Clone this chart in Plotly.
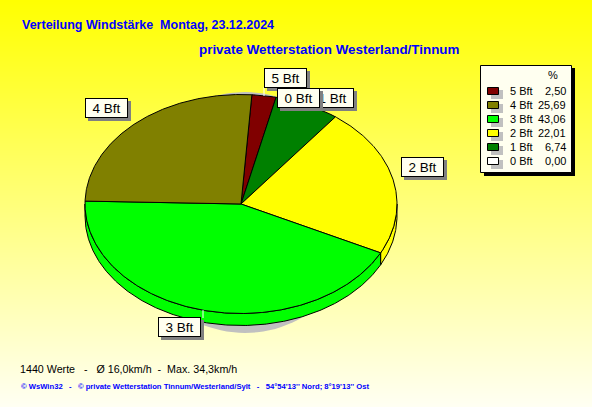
import math
import plotly.graph_objects as go

W, H = 592, 407
# --- data ---
labels = ["5 Bft", "1 Bft", "2 Bft", "3 Bft", "4 Bft"]
values = [2.50, 6.74, 22.01, 43.06, 25.69]
colors = ["#800000", "#008000", "#FFFF00", "#00FF00", "#808000"]
legend_labels = ["5 Bft", "4 Bft", "3 Bft", "2 Bft", "1 Bft", "0 Bft"]
legend_values = ["2,50", "25,69", "43,06", "22,01", "6,74", "0,00"]
legend_colors = ["#800000", "#808000", "#00FF00", "#FFFF00", "#008000", "#FFFFFF"]
title_1 = "Verteilung Windstärke  Montag, 23.12.2024"
title_2 = "private Wetterstation Westerland/Tinnum"
stats = "1440 Werte   -   Ø 16,0km/h  -  Max. 34,3km/h"
footer = "© WsWin32   -   © private Wetterstation Tinnum/Westerland/Sylt   -   54°54'13'' Nord; 8°19'13'' Ost"

# --- geometry ---
CX, CY, RX, RY, DEPTH = 241, 204, 156, 109.5, 12
START = 4.0
CREAM = "#FFFFF0"
SHADOW = "#C0C0C0"


def pt(deg, dy=0.0):
    a = math.radians(deg)
    return CX + RX * math.sin(a), CY + dy - RY * math.cos(a)


def arc(a0, a1, dy=0.0):
    n = max(2, int(abs(a1 - a0)) * 2)
    return [pt(a0 + (a1 - a0) * i / n, dy) for i in range(n + 1)]


def poly(points, fill, line="#000000", width=1):
    xs = [p[0] for p in points] + [points[0][0]]
    ys = [p[1] for p in points] + [points[0][1]]
    return go.Scatter(x=xs, y=ys, mode="lines", fill="toself", fillcolor=fill,
                      line=dict(color=line, width=width), hoverinfo="skip", showlegend=False)


fig = go.Figure()
fig.add_trace(go.Heatmap(x=[0, W], y=[-1, H + 1], z=[[0, 0], [1, 1]], zsmooth="best", showscale=False,
                         colorscale=[[0, "#FFFF00"], [1, "#FFFFF4"]], hoverinfo="skip"))

# shadow of the disc
shadow_pts = [(245 + 117 * math.sin(math.radians(t)), 212.5 + 120.5 * math.cos(math.radians(t)))
              for t in range(0, 360, 3)]
fig.add_trace(poly(shadow_pts, SHADOW, SHADOW, 0))

total = sum(values)
spans = []
a = START
for v in values:
    b = a + 360 * v / total
    spans.append((a, b))
    a = b

# side wall (front half only)
for (a0, a1), c in zip(spans, colors):
    lo, hi = max(a0, 90), min(a1, 270)
    if hi > lo:
        fig.add_trace(poly(arc(lo, hi) + arc(hi, lo, DEPTH), c))

# top face
for (a0, a1), c in zip(spans, colors):
    fig.add_trace(poly([(CX, CY)] + arc(a0, a1), c))

# leader lines
for x0, y0, x1, y1 in [(203, 310, 203, 318), (264, 87, 264, 96)]:
    fig.add_shape(type="line", x0=x0, y0=y0, x1=x1, y1=y1, line=dict(color="#FFFFFF", width=1))

# legend frame and swatches
fig.add_shape(type="rect", x0=484, y0=68, x1=575, y1=176, fillcolor="#000000", line_width=0)
fig.add_shape(type="rect", x0=480.5, y0=65.5, x1=571.5, y1=172.5, fillcolor=CREAM, line=dict(color="#000000", width=1))
for i, c in enumerate(legend_colors):
    y = 91 + 14 * i
    fig.add_shape(type="rect", x0=491, y0=y - 1, x1=503, y1=y + 8, fillcolor=SHADOW, line_width=0)
    fig.add_shape(type="rect", x0=487.5, y0=y - 3.5, x1=498.5, y1=y + 3.5, fillcolor=c, line=dict(color="#000000", width=1))


def text(x, y, s, size=11, color="#000000", bold=False, anchor="left"):
    fig.add_annotation(x=x, y=y, text=f"<b>{s}</b>" if bold else s, showarrow=False, xanchor=anchor, yanchor="middle",
                       xref="x", yref="y", font=dict(family="Liberation Sans", size=size, color=color),
                       borderpad=0, borderwidth=0)


def tag(x, y, s):
    fig.add_annotation(x=x + 3, y=y + 3, text=" ", showarrow=False, xanchor="left", yanchor="top", xref="x", yref="y",
                       width=43, height=20, bgcolor="#808080", borderpad=0, borderwidth=0)
    fig.add_annotation(x=x, y=y, text=s, showarrow=False, xanchor="left", yanchor="top", xref="x", yref="y",
                       width=41, height=18, align="center", valign="middle", bgcolor=CREAM, bordercolor="#000000",
                       borderwidth=1, borderpad=0, font=dict(family="Liberation Sans", size=13.5, color="#000000"))


tag(311, 88, "1 Bft")
tag(85, 98, "4 Bft")
tag(401, 157, "2 Bft")
tag(158, 317, "3 Bft")
tag(264, 68, "5 Bft")
tag(277, 88, "0 Bft")

text(22, 25, title_1, size=12.5, color="#0000FF", bold=True)
text(199, 49, title_2, size=13.4, color="#0000FF", bold=True)
text(20, 369, stats, size=10.7)
text(21, 386, footer, size=7.65, color="#0000FF", bold=True)

text(553, 75, "%", anchor="center")
for i, (lab, val) in enumerate(zip(legend_labels, legend_values)):
    y = 91 + 14 * i
    text(510, y, lab)
    text(566, y, val, anchor="right")

fig.update_layout(width=W, height=H, margin=dict(l=0, r=0, t=0, b=0), showlegend=False,
                  paper_bgcolor="#FFFFFF", plot_bgcolor="#FFFFFF",
                  xaxis=dict(range=[0, W], visible=False, fixedrange=True),
                  yaxis=dict(range=[H, 0], visible=False, fixedrange=True))
fig.write_html("out.html", config=dict(displayModeBar=False),
               post_script="document.body.style.margin='0';document.documentElement.style.overflow='hidden';")
